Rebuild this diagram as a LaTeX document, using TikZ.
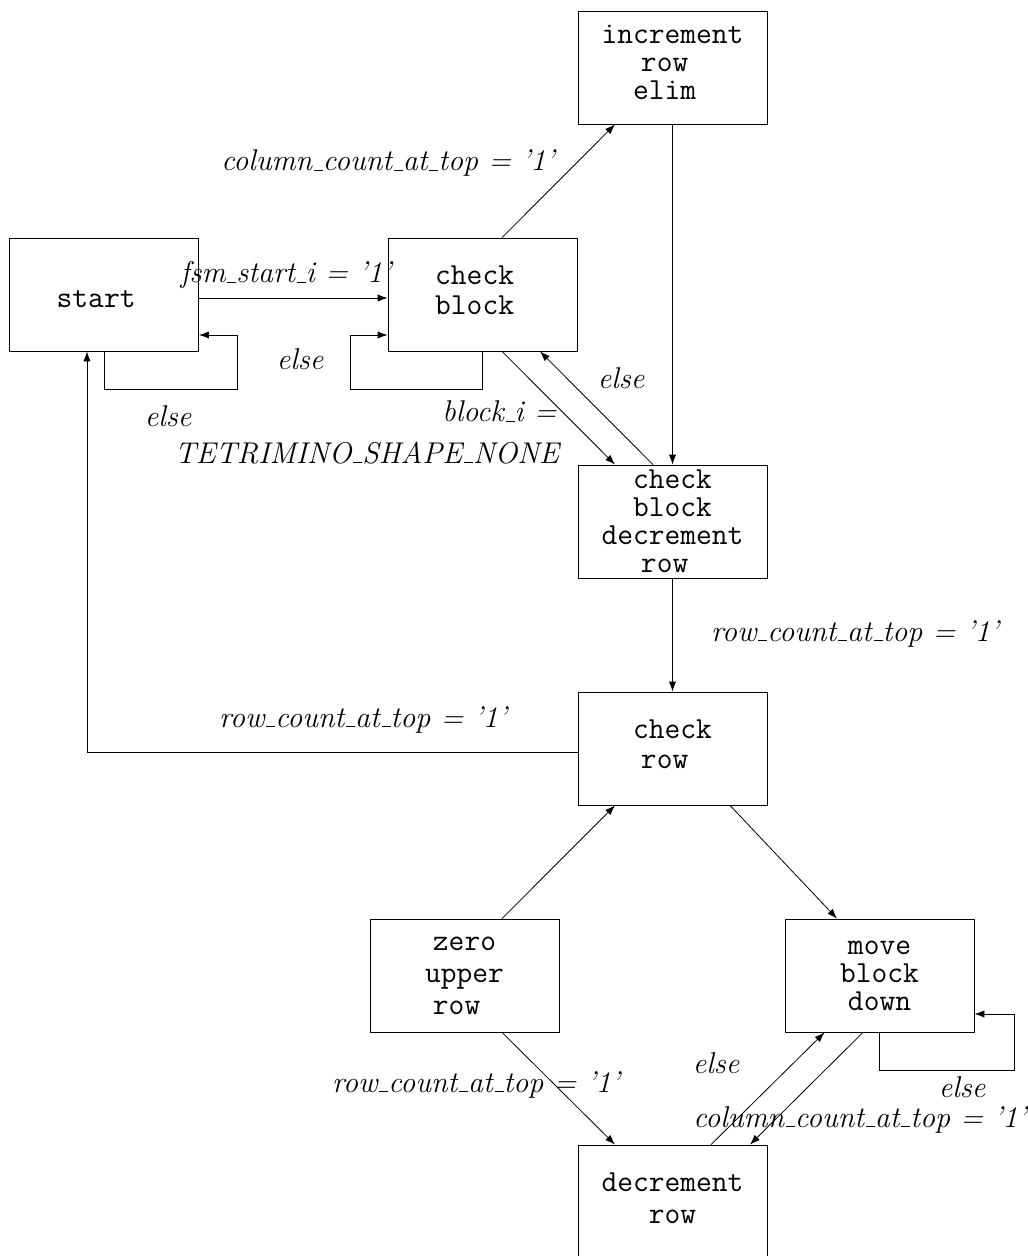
\documentclass[tikz,border=0pt]{standalone}
\usetikzlibrary{positioning, arrows.meta}
\newcommand{\tsp}{\hphantom{x}}
\newcommand{\usc}{\leavevmode\kern.06em\vbox{\hrule width.3em}}

\tikzset{
  stbox/.style={draw, rectangle, minimum width=94.5pt, minimum height=56.5pt,
    inner sep=0pt, align=center, font=\fontsize{15.3}{14}\selectfont\ttfamily},
  lbl/.style={inner sep=0pt, anchor=base, font=\fontsize{15}{20}\selectfont\itshape},
}

\begin{document}
\begin{tikzpicture}[x=0.5pt, y=-0.5pt, >={Latex[length=5pt,width=3.6pt]}, node distance=113.5pt, on grid]
  \useasboundingbox (0,0) rectangle (1027,1256);
  % states
  \node[stbox, text height=13.4pt] (start) at (104,294.5) {start\tsp};
  \node[stbox, text depth=4pt] (chkblk) [right=189.25pt of start] {check\tsp\\[1pt]block\tsp};
  \node[stbox, text depth=5pt] (incrow) [above right=113.5pt and 95pt of chkblk] {increment\\row\tsp\\elim\tsp};
  \node[stbox] (chkdec) [below=227pt of incrow] {check\\block\\decrement\\row\tsp};
  \node[stbox, text depth=4.5pt] (chkrow) [below=of chkdec] {check\\[1pt]row\tsp};
  \node[stbox] (zerorow) [below left=113.5pt and 104pt of chkrow] {zero\\[2pt]upper\\[2pt]row\tsp};
  \node[stbox] (movblk) [below right=113.5pt and 103.5pt of chkrow] {move\\block\\down};
  \node[stbox, text depth=3pt] (decrow) [below=226.5pt of chkrow] {decrement\\[2pt]row};

  % transitions
  \draw[->] ([yshift=-1.75pt]start.east) -- ([yshift=-1.75pt]chkblk.west);
  \draw[->] (start.south) -- ++(0,38) -| ([xshift=19pt,yshift=-20.25pt]start.east) -- ([yshift=-20.25pt]start.east);
  \draw[->] (chkblk.south) -- ++(0,38) -| ([xshift=-18.5pt,yshift=-20.25pt]chkblk.west) -- ([yshift=-20.25pt]chkblk.west);
  \draw[->] ([xshift=9.75pt]chkblk.north) -- ([xshift=-28.75pt]incrow.south);
  \draw[->] ([xshift=9.75pt]chkblk.south) -- ([xshift=-28.75pt]chkdec.north);
  \draw[->] ([xshift=-9.75pt]chkdec.north) -- ([xshift=28.75pt]chkblk.south);
  \draw[->] (incrow) -- (chkdec);
  \draw[->] (chkdec) -- (chkrow);
  \draw[->] ([yshift=-1.75pt]chkrow.west) -| ([xshift=-8.5pt]start.south);
  \draw[->] ([xshift=28.75pt]chkrow.south) -- ([xshift=-21.25pt]movblk.north);
  \draw[->] ([xshift=18.75pt]zerorow.north) -- ([xshift=-28.75pt]chkrow.south);
  \draw[->] ([xshift=18.75pt]zerorow.south) -- ([xshift=-28.75pt]decrow.north);
  \draw[->] ([xshift=19.25pt]decrow.north) -- ([xshift=-27.5pt]movblk.south);
  \draw[->] ([xshift=-8.25pt]movblk.south) -- ([xshift=38.75pt]decrow.north);
  \draw[->] (movblk.south) -- ++(0,38) -| ([xshift=20pt,yshift=-19.25pt]movblk.east) -- ([yshift=-19.25pt]movblk.east);

  % conditions
  \node[lbl] (fsmlbl) at (286,283) {fsm\usc start\usc i = '1'};
  \node[lbl] (colup) at (388,171) {column\usc count\usc at\usc top = '1'};
  \node[lbl] (elsestart) at (168,427) {else};
  \node[lbl] (elseblk) at (300,370) {else};
  \node[lbl, anchor=base east] (blklbl) at (557,422) {block\usc i =};
  \node[lbl] (shapelbl) at (367,463) {TETRIMINO\usc SHAPE\usc NONE};
  \node[lbl] (elsedec) at (621,389) {else};
  \node[lbl] (rowdec) at (855,641) {row\usc count\usc at\usc top = '1'};
  \node[lbl] (rowstart) at (363,727) {row\usc count\usc at\usc top = '1'};
  \node[lbl] (rowzero) at (476,1092) {row\usc count\usc at\usc top = '1'};
  \node[lbl] (elsedown) at (716,1073) {else};
  \node[lbl] (elsemov) at (962,1097) {else};
  \node[lbl] (coldown) at (860,1127) {column\usc count\usc at\usc top = '1'};
\end{tikzpicture}
\end{document}
